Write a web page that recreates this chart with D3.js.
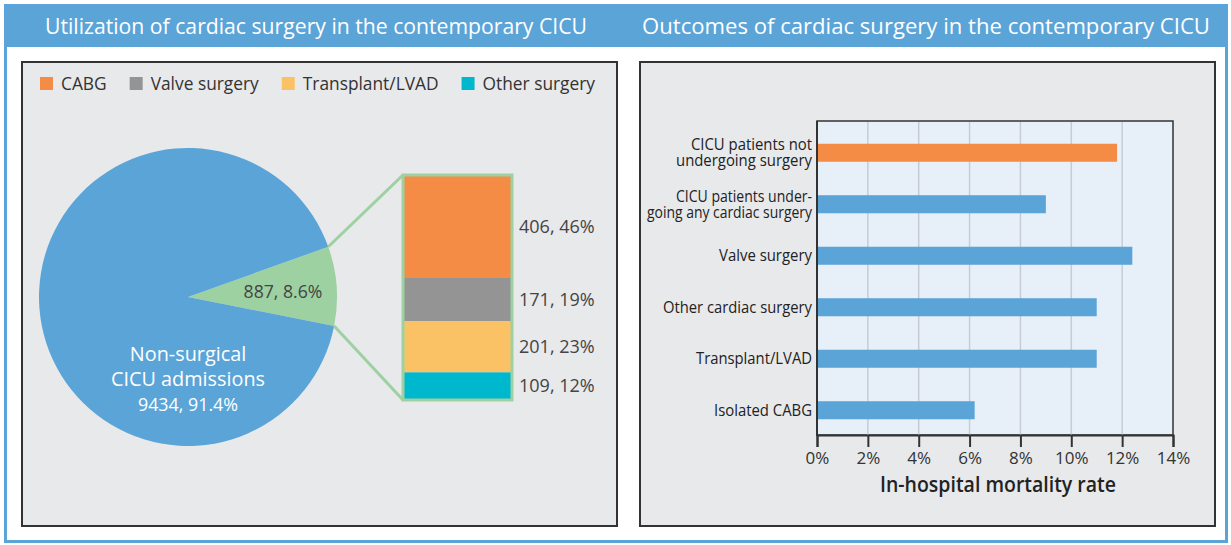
<!DOCTYPE html>
<html><head><meta charset="utf-8">
<script src="https://cdn.jsdelivr.net/npm/d3@7"></script>
<style>
body{margin:0;background:#fff;}
svg{display:block;}
text{font-family:'Open Sans','Noto Sans',sans-serif;}
</style>
</head><body>
<svg id="c" width="1231" height="545"></svg>
<script>
// ---------- DATA ----------
const panelTitles = ["Utilization of cardiac surgery in the contemporary CICU",
                     "Outcomes of cardiac surgery in the contemporary CICU"];
const pieCategories = ["Cardiac surgery", "Non-surgical CICU admissions"];
const pieCounts = [887, 9434];
const pieSliceLabel = "887, 8.6%";
const pieMainLabel = ["Non-surgical", "CICU admissions", "9434, 91.4%"];
const surgeryTypes = ["CABG", "Valve surgery", "Transplant/LVAD", "Other surgery"];
const surgeryCounts = [406, 171, 201, 109];
const surgeryLabels = ["406, 46%", "171, 19%", "201, 23%", "109, 12%"];
const outcomeGroups = [["CICU patients not", "undergoing surgery"],
                       ["CICU patients under-", "going any cardiac surgery"],
                       ["Valve surgery"], ["Other cardiac surgery"],
                       ["Transplant/LVAD"], ["Isolated CABG"]];
const mortality = [11.8, 9.0, 12.4, 11.0, 11.0, 6.2];
const mortalityTicks = [0, 2, 4, 6, 8, 10, 12, 14];
const axisTitle = "In-hospital mortality rate";

// ---------- STYLE / LAYOUT ----------
const BLUE = "#5ba4d8", GREEN = "#9dd1a1", PANEL = "#e8e9eb", PLOT = "#e7f0f9", DARK = "#333";
const surgeryColors = ["#f58c46", "#949494", "#fbc265", "#00b8cd"];
// rendered widths (px) of the category label lines, to mimic the condensed face
const yLabelWidths = [[121, 136], [136, 165], [93], [149], [116], [98]];

const svg = d3.select("#c");

function condense(sel, k) {
  let out = 0;
  sel.each(function () {
    const w = this.getComputedTextLength();
    out = w * k;
    if (w > 0) d3.select(this).attr("textLength", w * k).attr("lengthAdjust", "spacingAndGlyphs");
  });
  return out;
}
function fitTo(sel, target) {
  const w = sel.node().getComputedTextLength();
  sel.attr("textLength", target).attr("lengthAdjust", "spacingAndGlyphs");
  return target / w;
}

// frame
svg.append("rect").attr("x", 5.5).attr("y", 5.5).attr("width", 1221).attr("height", 536)
  .attr("fill", "#fff").attr("stroke", BLUE).attr("stroke-width", 3);
svg.append("rect").attr("x", 4).attr("y", 4).attr("width", 1224).attr("height", 43).attr("fill", BLUE);

const K = fitTo(svg.append("text").attr("x", 316).attr("y", 34).attr("text-anchor", "middle")
  .attr("fill", "#fff").attr("font-size", 22).text(panelTitles[0]), 542);
fitTo(svg.append("text").attr("x", 926).attr("y", 34).attr("text-anchor", "middle")
  .attr("fill", "#fff").attr("font-size", 22).text(panelTitles[1]), 568);

// panels
svg.append("rect").attr("x", 22).attr("y", 62).attr("width", 595).attr("height", 464)
  .attr("fill", PANEL).attr("stroke", DARK).attr("stroke-width", 2);
svg.append("rect").attr("x", 640).attr("y", 62).attr("width", 575).attr("height", 464)
  .attr("fill", PANEL).attr("stroke", DARK).attr("stroke-width", 2);

// ---------- LEFT: legend ----------
let lx = 40;
surgeryTypes.forEach((name, i) => {
  svg.append("rect").attr("x", lx).attr("y", 77).attr("width", 13).attr("height", 13).attr("fill", surgeryColors[i]);
  const t = svg.append("text").attr("x", lx + 21).attr("y", 90).attr("font-size", 18).attr("fill", "#333").text(name);
  const w = condense(t, K);
  lx += 21 + w + 23;
});

// ---------- LEFT: pie ----------
const cx = 188, cy = 297, R = 149;
const start = 70.3 * Math.PI / 180;
const pie = d3.pie().sort(null).startAngle(start).endAngle(start + 2 * Math.PI);
const arcs = pie(pieCounts);
const arc = d3.arc().innerRadius(0).outerRadius(R);
const pg = svg.append("g").attr("transform", `translate(${cx},${cy})`);
pg.selectAll("path").data(arcs).join("path").attr("d", arc)
  .attr("fill", (d, i) => i === 0 ? GREEN : BLUE);

// stacked bar
const barX = 403, barW = 109, barTop = 175, barBot = 400;
const total = d3.sum(surgeryCounts);
const ys = d3.scaleLinear().domain([0, total]).range([barTop, barBot]);
const cum = d3.cumsum([0, ...surgeryCounts]);
svg.selectAll(".seg").data(surgeryCounts).join("rect")
  .attr("x", barX).attr("width", barW)
  .attr("y", (d, i) => ys(cum[i])).attr("height", d => ys(d) - ys(0))
  .attr("fill", (d, i) => surgeryColors[i]);
svg.append("rect").attr("x", barX).attr("y", barTop).attr("width", barW).attr("height", barBot - barTop)
  .attr("fill", "none").attr("stroke", GREEN).attr("stroke-width", 3);

// connectors from slice edges to bar corners
const a0 = arcs[0].startAngle, a1 = arcs[0].endAngle;
const p0 = [cx + R * Math.sin(a0), cy - R * Math.cos(a0)];
const p1 = [cx + R * Math.sin(a1), cy - R * Math.cos(a1)];
svg.append("line").attr("x1", p0[0]).attr("y1", p0[1]).attr("x2", barX).attr("y2", barTop)
  .attr("stroke", GREEN).attr("stroke-width", 3);
svg.append("line").attr("x1", p1[0]).attr("y1", p1[1]).attr("x2", barX).attr("y2", barBot)
  .attr("stroke", GREEN).attr("stroke-width", 3);

// labels
surgeryLabels.forEach((lab, i) => {
  condense(svg.append("text").attr("x", 519).attr("y", (ys(cum[i]) + ys(cum[i + 1])) / 2)
    .attr("dy", "0.35em").attr("font-size", 18).attr("fill", "#444").text(lab), 1.0);
});
condense(svg.append("text").attr("x", 283).attr("y", 292).attr("dy", "0.35em").attr("text-anchor", "middle")
  .attr("font-size", 18).attr("fill", "#444").text(pieSliceLabel), 0.98);
const mainY = [354, 379, 405], mainS = [20, 20, 18];
pieMainLabel.forEach((s, i) => {
  condense(svg.append("text").attr("x", cx).attr("y", mainY[i]).attr("dy", "0.35em").attr("text-anchor", "middle")
    .attr("font-size", mainS[i]).attr("fill", "#fff").text(s), K * 1.03);
});

// ---------- RIGHT: bar chart ----------
const x = d3.scaleLinear().domain([0, 14]).range([817, 1173]);
const y = d3.scaleBand().domain(d3.range(outcomeGroups.length)).range([127, 436]).paddingInner(0.65).paddingOuter(0.325);
const plotTop = 121, plotBot = 435;
svg.append("rect").attr("x", x(0)).attr("y", plotTop).attr("width", x(14) - x(0)).attr("height", plotBot - plotTop)
  .attr("fill", PLOT).attr("stroke", DARK).attr("stroke-width", 1.5);
svg.selectAll(".grid").data(mortalityTicks.slice(1, -1)).join("line")
  .attr("x1", d => x(d)).attr("x2", d => x(d)).attr("y1", plotTop + 1).attr("y2", plotBot)
  .attr("stroke", "#c6ccd2").attr("stroke-width", 1.5);

svg.selectAll(".bar").data(mortality).join("rect")
  .attr("x", x(0)).attr("y", (d, i) => y(i)).attr("height", y.bandwidth())
  .attr("width", d => x(d) - x(0))
  .attr("fill", (d, i) => i === 0 ? "#f58c46" : BLUE);

const xAxis = d3.axisBottom(x).tickValues(mortalityTicks).tickFormat(d => d + "%").tickSize(12).tickPadding(5);
const ax = svg.append("g").attr("transform", `translate(0,${plotBot})`).call(xAxis);
ax.select(".domain").attr("stroke", DARK).attr("stroke-width", 2);
ax.selectAll(".tick line").attr("stroke", DARK).attr("stroke-width", 2);
ax.selectAll(".tick text").attr("font-size", 17).attr("fill", "#333").attr("font-family", "'Open Sans'");
svg.append("line").attr("x1", x(0)).attr("x2", x(0)).attr("y1", plotTop).attr("y2", plotBot + 1)
  .attr("stroke", DARK).attr("stroke-width", 2);

fitTo(svg.append("text").attr("x", 998).attr("y", 485).attr("dy", "0.35em")
  .attr("text-anchor", "middle").attr("font-size", 21).attr("font-weight", 600).attr("fill", "#222").text(axisTitle), 236);

const ylabG = svg.append("g");
outcomeGroups.forEach((lines, i) => {
  const c = y(i) + y.bandwidth() / 2;
  lines.forEach((s, j) => {
    fitTo(ylabG.append("text").attr("x", 812).attr("y", c + (j - (lines.length - 1) / 2) * 16)
      .attr("dy", "0.35em").attr("text-anchor", "end").attr("font-size", 16).attr("font-weight", 500)
      .attr("fill", "#222").text(s), yLabelWidths[i][j]);
  });
});
</script>
</body></html>
